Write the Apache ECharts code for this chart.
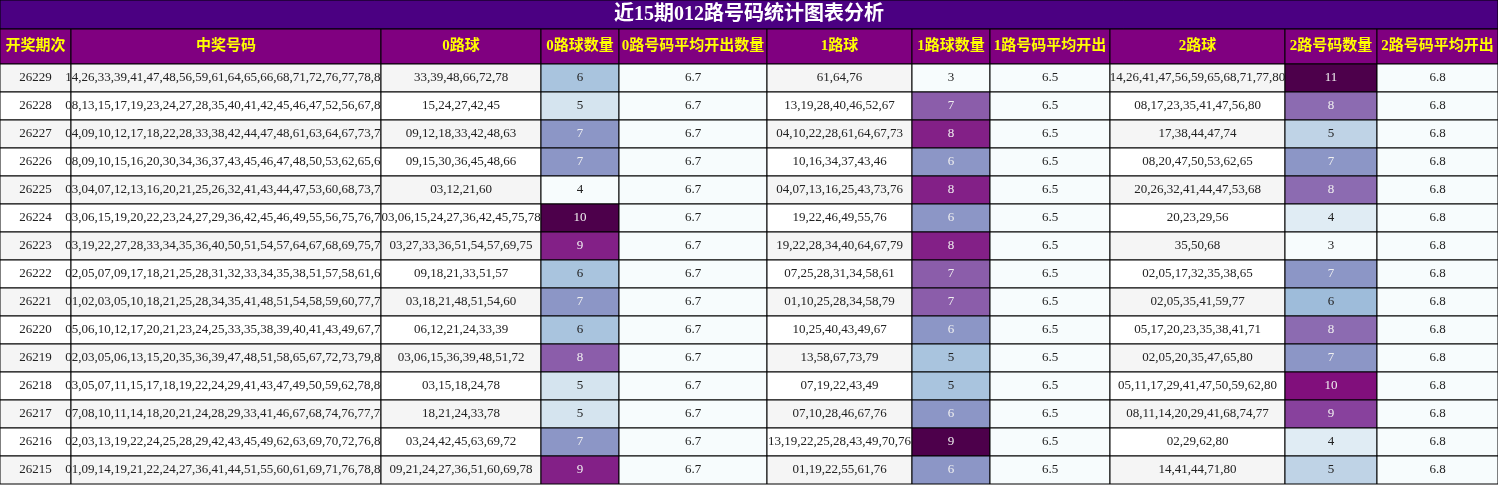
<!DOCTYPE html>
<html><head><meta charset="utf-8">
<script src="https://cdn.jsdelivr.net/npm/echarts@6/dist/echarts.min.js"></script>
<style>html,body{margin:0;padding:0;background:#fff}#c{width:1498px;height:485px}</style>
</head><body><div id="c"></div>
<script>
const title = '近15期012路号码统计图表分析';
const headers = ['开奖期次','中奖号码','0路球','0路球数量','0路号码平均开出数量','1路球','1路球数量','1路号码平均开出','2路球','2路号码数量','2路号码平均开出'];
const periods = ['26229','26228','26227','26226','26225','26224','26223','26222','26221','26220','26219','26218','26217','26216','26215'];
const numbers = [
'14,26,33,39,41,47,48,56,59,61,64,65,66,68,71,72,76,77,78,80',
'08,13,15,17,19,23,24,27,28,35,40,41,42,45,46,47,52,56,67,80',
'04,09,10,12,17,18,22,28,33,38,42,44,47,48,61,63,64,67,73,74',
'08,09,10,15,16,20,30,34,36,37,43,45,46,47,48,50,53,62,65,66',
'03,04,07,12,13,16,20,21,25,26,32,41,43,44,47,53,60,68,73,76',
'03,06,15,19,20,22,23,24,27,29,36,42,45,46,49,55,56,75,76,78',
'03,19,22,27,28,33,34,35,36,40,50,51,54,57,64,67,68,69,75,79',
'02,05,07,09,17,18,21,25,28,31,32,33,34,35,38,51,57,58,61,65',
'01,02,03,05,10,18,21,25,28,34,35,41,48,51,54,58,59,60,77,79',
'05,06,10,12,17,20,21,23,24,25,33,35,38,39,40,41,43,49,67,71',
'02,03,05,06,13,15,20,35,36,39,47,48,51,58,65,67,72,73,79,80',
'03,05,07,11,15,17,18,19,22,24,29,41,43,47,49,50,59,62,78,80',
'07,08,10,11,14,18,20,21,24,28,29,33,41,46,67,68,74,76,77,78',
'02,03,13,19,22,24,25,28,29,42,43,45,49,62,63,69,70,72,76,80',
'01,09,14,19,21,22,24,27,36,41,44,51,55,60,61,69,71,76,78,80'];
const road0 = ['33,39,48,66,72,78','15,24,27,42,45','09,12,18,33,42,48,63','09,15,30,36,45,48,66','03,12,21,60','03,06,15,24,27,36,42,45,75,78','03,27,33,36,51,54,57,69,75','09,18,21,33,51,57','03,18,21,48,51,54,60','06,12,21,24,33,39','03,06,15,36,39,48,51,72','03,15,18,24,78','18,21,24,33,78','03,24,42,45,63,69,72','09,21,24,27,36,51,60,69,78'];
const count0 = [6,5,7,7,4,10,9,6,7,6,8,5,5,7,9];
const avg0 = '6.7';
const road1 = ['61,64,76','13,19,28,40,46,52,67','04,10,22,28,61,64,67,73','10,16,34,37,43,46','04,07,13,16,25,43,73,76','19,22,46,49,55,76','19,22,28,34,40,64,67,79','07,25,28,31,34,58,61','01,10,25,28,34,58,79','10,25,40,43,49,67','13,58,67,73,79','07,19,22,43,49','07,10,28,46,67,76','13,19,22,25,28,43,49,70,76','01,19,22,55,61,76'];
const count1 = [3,7,8,6,8,6,8,7,7,6,5,5,6,9,6];
const avg1 = '6.5';
const road2 = ['14,26,41,47,56,59,65,68,71,77,80','08,17,23,35,41,47,56,80','17,38,44,47,74','08,20,47,50,53,62,65','20,26,32,41,44,47,53,68','20,23,29,56','35,50,68','02,05,17,32,35,38,65','02,05,35,41,59,77','05,17,20,23,35,38,41,71','02,05,20,35,47,65,80','05,11,17,29,41,47,50,59,62,80','08,11,14,20,29,41,68,74,77','02,29,62,80','14,41,44,71,80'];
const count2 = [11,8,5,7,8,4,3,7,6,8,7,10,9,4,5];
const avg2 = '6.8';

// layout
const colEdges = [0,71,381,541,619,767,912,990,1110,1285,1377,1498];
const titleH = 29, headH = 35, rowH = 28;
const BuPu = ['#f7fcfd','#e0ecf4','#bfd3e6','#9ebcda','#8c96c6','#8c6bb1','#88419d','#810f7c','#4d004b'];
const serif = '"Liberation Serif","DejaVu Serif","Noto Serif CJK SC",serif';
const cjk = '"Liberation Serif","Noto Sans CJK SC",sans-serif';

const counts = [count0, count1, count2];
const cells = [];
// title
cells.push({value:[0, 11, -2], kind:'title', text:title});
headers.forEach((h,i)=>cells.push({value:[i, i+1, -1], kind:'head', text:h}));
periods.forEach((p,r)=>{
  const row = [p, numbers[r], road0[r], count0[r], avg0, road1[r], count1[r], avg1, road2[r], count2[r], avg2];
  row.forEach((t,c)=>{
    let kind='text', fill = r%2===0 ? '#f5f5f5' : '#ffffff', color='#222';
    if (c===4||c===7||c===10){ fill='#f7fcfd'; }
    if (c===3||c===6||c===9){
      const arr = counts[(c-3)/3];
      const mn = Math.min(...arr), mx = Math.max(...arr);
      const ratio = (t-mn)/(mx-mn);
      fill = echarts.color.lerp(ratio, BuPu);
      color = ratio > 0.45 ? '#f0f0f0' : '#222';
    }
    cells.push({value:[c, c+1, r], kind, text:String(t), fill, color});
  });
});

function rowY(r){ return r===-2 ? [0,titleH] : r===-1 ? [titleH,titleH+headH] : [titleH+headH+r*rowH, titleH+headH+(r+1)*rowH]; }

const chart = echarts.init(document.getElementById('c'));
chart.setOption({
  animation:false,
  grid:{left:0,right:0,top:0,bottom:0},
  xAxis:{type:'value',min:0,max:1498,show:false},
  yAxis:{type:'value',min:0,max:485,inverse:true,show:false},
  series:[{
    type:'custom',
    data:cells,
    renderItem(params, api){
      const d = cells[params.dataIndex];
      const [y0,y1] = rowY(d.value[2]);
      const p0 = api.coord([colEdges[d.value[0]], y0]);
      const p1 = api.coord([colEdges[d.value[1]], y1]);
      let fill=d.fill, tc=d.color, font='13px '+serif, fw='normal';
      if (d.kind==='title'){ fill='#4b0082'; tc='#ffffff'; font='bold 20px '+cjk; }
      if (d.kind==='head'){ fill='#800080'; tc='#ffff00'; font='bold 15px '+cjk; }
      return {type:'group',children:[
        {type:'rect',shape:{x:p0[0],y:p0[1],width:p1[0]-p0[0],height:p1[1]-p0[1]},
         style:{fill, stroke:'#000', lineWidth:1}},
        {type:'text',style:{x:(p0[0]+p1[0])/2,y:(p0[1]+p1[1])/2,text:d.text,font,fill:tc,align:'center',verticalAlign:'middle'}}
      ]};
    }
  }]
});
</script></body></html>
